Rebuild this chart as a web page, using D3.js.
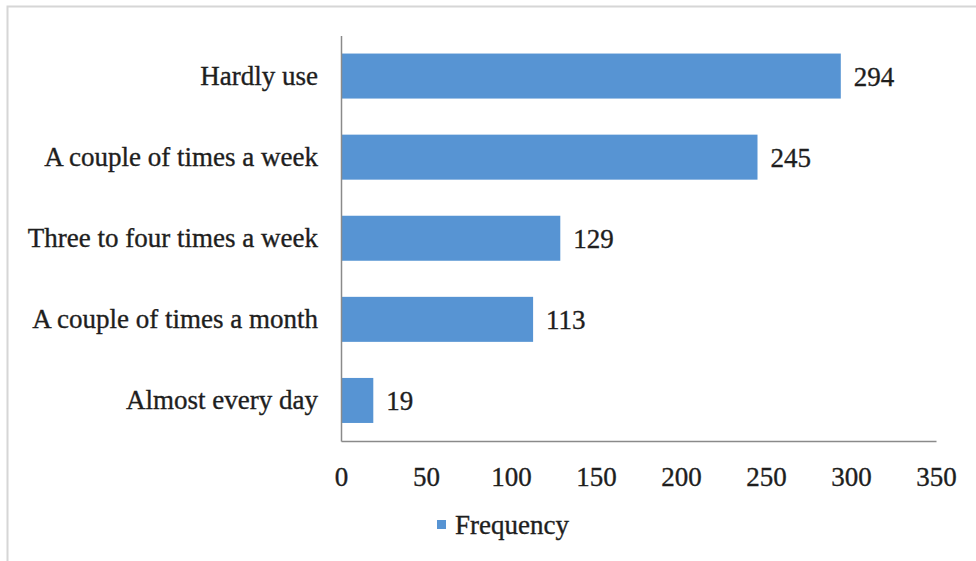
<!DOCTYPE html>
<html>
<head>
<meta charset="utf-8">
<script src="https://cdn.jsdelivr.net/npm/d3@7"></script>
<style>
  html, body { margin: 0; padding: 0; background: #fff; }
</style>
</head>
<body>
<svg id="chart" width="976" height="561"></svg>
<script>
const categories = ["Hardly use", "A couple of times a week", "Three to four times a week", "A couple of times a month", "Almost every day"];
const frequency = [294, 245, 129, 113, 19];
const xTicks = [0, 50, 100, 150, 200, 250, 300, 350];
const seriesName = "Frequency";

const svg = d3.select("#chart");
const barColor = "#5794d3";
const axisColor = "#8a8a8a";
const fontSize = 27;
const fontFam = '"Liberation Serif", "Times New Roman", serif';
const textColor = "#1e1e1e";

function styleText(sel) {
  sel.style("font-family", fontFam).style("font-size", fontSize + "px")
     .style("fill", textColor).style("stroke", textColor).style("stroke-width", 0.35);
}

// outer frame
svg.append("rect")
  .attr("x", 7.5).attr("y", 6.5)
  .attr("width", 1000).attr("height", 600)
  .attr("fill", "none").attr("stroke", "#d6d6d6").attr("stroke-width", 2);

const x = d3.scaleLinear().domain([0, 350]).range([341, 936]);
const y = d3.scaleBand().domain(categories).range([35.5, 441]).paddingInner(0.445).paddingOuter(0.2225);

// bars
svg.append("g").selectAll("rect")
  .data(categories)
  .join("rect")
  .attr("x", x(0))
  .attr("y", d => y(d))
  .attr("width", (d, i) => x(frequency[i]) - x(0))
  .attr("height", y.bandwidth())
  .attr("fill", barColor);

// value labels
svg.append("g").selectAll("text")
  .data(categories)
  .join("text")
  .attr("x", (d, i) => x(frequency[i]) + 13)
  .attr("y", d => y(d) + y.bandwidth() / 2)
  .attr("dy", "0.35em")
  .text((d, i) => frequency[i])
  .call(styleText);

// y axis (category)
const yAxis = d3.axisLeft(y).tickSize(0).tickPadding(23);
const gy = svg.append("g").attr("transform", `translate(${x(0)},0)`).call(yAxis);
gy.select(".domain").attr("stroke", axisColor).attr("stroke-width", 1.5);
gy.selectAll("text").call(styleText);

// x axis
const xAxis = d3.axisBottom(x).tickValues(xTicks).tickSize(0).tickPadding(26);
const gx = svg.append("g").attr("transform", `translate(0,${441})`).call(xAxis);
gx.select(".domain").attr("stroke", axisColor).attr("stroke-width", 1.5);
gx.selectAll("text").call(styleText);

// legend
const lg = svg.append("g").attr("transform", "translate(437,520)");
lg.append("rect").attr("x", 0).attr("y", 0).attr("width", 9).attr("height", 9).attr("fill", barColor);
lg.append("text").attr("x", 18).attr("y", 4.5).attr("dy", "0.35em").text(seriesName).call(styleText);
</script>
</body>
</html>
